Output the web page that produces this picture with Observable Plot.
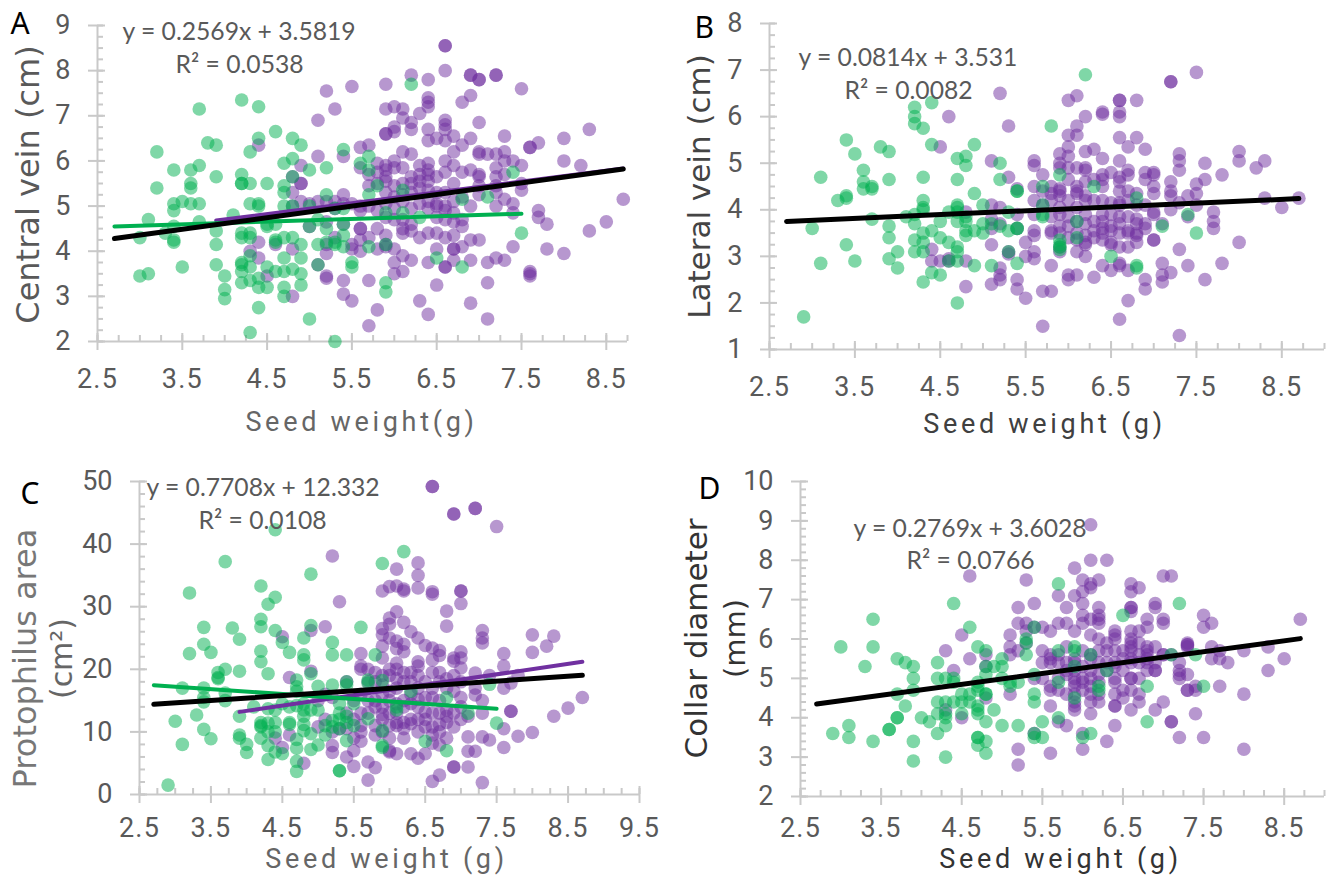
<!DOCTYPE html>
<html>
<head>
<meta charset="utf-8">
<script src="https://cdn.jsdelivr.net/npm/d3@7"></script>
<script src="https://cdn.jsdelivr.net/npm/@observablehq/plot@0.6"></script>
<style>
html,body{margin:0;padding:0;background:#fff}
#page{position:relative;width:1327px;height:875px;overflow:hidden}
#page svg{position:absolute;overflow:visible;background:transparent}
#page g[aria-label="x-axis tick label"]{letter-spacing:1.2px}
</style>
</head>
<body>
<div id="page"></div>
<script>
// Each row: seed weight, then the trait values read at that weight
const aGreen = [[3.0,[3.45,4.3]],[3.1,[3.5,4.7]],[3.2,[6.2,5.4]],[3.3,[4.4]],[3.4,[5.8,5.05,4.9,4.55,4.25,4.2]],[3.5,[5.1,3.65]],[3.6,[5.8,5.5,5.4,5.05]],[3.7,[7.15,5.9,5.05,4.65]],[3.8,[6.4]],[3.9,[6.35,5.65,4.45,4.15,3.7]],[4.0,[3.45,3.15,2.95]],[4.1,[4.8]],[4.2,[7.35,5.7,5.5,5.5,4.4,4.3,3.75,3.7,3.55,3.3]],[4.3,[6.2,5.5,5.05,4.4,4.3,3.9,3.65,3.35,2.2]],[4.4,[7.2,6.5,5.0,5.05,3.4,3.2,2.75]],[4.5,[5.5,4.6,4.55,3.65,3.2]],[4.6,[6.65,4.6,4.25,4.2,3.55]],[4.7,[5.95,5.45,5.3,5.0,4.3,3.85,3.55,3.2,3.0]],[4.8,[6.5,6.05,5.65,5.0,4.3,3.6]],[4.9,[6.35,4.15,3.85,3.5,3.25]],[5.0,[5.8,5.0,4.55,2.5]],[5.1,[4.7,4.15,3.7]],[5.2,[5.85,5.25,4.5,4.2]],[5.3,[4.2,4.15,2.0,4.95]],[5.4,[6.25,4.95,4.6,4.35,4.1]],[5.5,[3.75,3.65]],[5.6,[5.95]],[5.7,[6.1,5.8,5.25,4.1]],[5.8,[5.45]],[5.9,[4.85,4.15,3.3,3.1]],[6.1,[5.35,4.85]],[6.2,[7.7]],[6.3,[4.75]],[6.5,[3.85]],[6.8,[5.15,3.65]],[7.1,[5.2]],[7.4,[5.75]],[7.5,[4.4]]];
const aPurple = [[4.3,[4.0]],[4.4,[6.35,4.2,3.85]],[4.5,[3.45]],[4.6,[4.15]],[4.8,[5.65,5.3,5.0,4.05,3.0]],[4.9,[5.9,5.5,5.1]],[5.0,[5.05,4.55]],[5.1,[6.9,6.1,5.1,3.7]],[5.2,[7.55,5.1,4.65,4.15,3.95,3.45,3.4]],[5.3,[7.15,4.95,5.1,4.3]],[5.4,[6.1,5.25,4.6,3.35,3.05]],[5.5,[7.65,5.05,4.15,4.05,2.9]],[5.6,[6.3,5.85,5.0,4.9,4.5,4.5,4.25,4.0]],[5.7,[6.35,5.7,5.45,5.0,4.3,3.35,2.35]],[5.8,[5.95,5.5,4.9,4.5,4.05,2.7]],[5.9,[7.7,7.15,6.6,5.9,5.8,5.65,5.55,5.3,4.75,4.35,4.15,4.1]],[6.0,[7.2,6.75,6.65,6.0,5.85,4.7,4.05,3.75,3.5]],[6.1,[7.15,6.95,6.2,5.85,5.5,5.25,4.7,4.5,3.9,3.55]],[6.2,[7.9,6.85,6.7,6.15,5.65,5.5,4.95,4.6,4.45,3.8]],[6.3,[7.05,5.9,5.7,5.4,4.3,2.9]],[6.4,[7.8,7.4,7.3,7.2,6.7,6.45,5.95,5.8,5.7,5.55,5.1,4.95,4.4,3.75,2.6]],[6.5,[6.5,5.05,5.0,4.4,4.05,3.25]],[6.6,[8.55,8.0,6.9,6.8,6.7,6.45,6.0,5.75,5.0,4.7,4.3,3.65]],[6.7,[6.55,5.9,5.5,4.85,4.65,4.35,4.05,3.8]],[6.8,[7.3,6.35,5.75,5.2,4.7,4.55,4.1]],[6.9,[7.9,7.45,6.5,5.8,5.0,4.25,3.8,2.85]],[7.0,[7.8,6.85,6.2,6.15,5.7,5.65,5.25,4.25]],[7.1,[6.15,3.75,3.3,2.5]],[7.2,[7.9,6.15,5.85,5.45,5.3,5.0,3.85]],[7.3,[6.55,6.2,6.0,5.7,5.15,3.8]],[7.4,[6.0,5.05,4.85,4.1]],[7.5,[7.6,5.9,5.5,5.35]],[7.6,[6.3,6.3,3.55,3.5,3.45]],[7.7,[6.4,4.9,4.75]],[7.8,[4.6,4.05]],[8.0,[6.5,6.0,3.95]],[8.2,[5.9]],[8.3,[6.7,4.45]],[8.5,[4.65]],[8.7,[5.15]]];
const aPurpleDense = [[4.9,[5.5]],[5.4,[5.05]],[5.8,[5.75]],[5.9,[6.6,5.05]],[6.0,[5.45,5.2,4.95]],[6.1,[5.1,4.4]],[6.2,[5.3]],[6.3,[5.55,5.05]],[6.4,[5.35]],[6.5,[5.65,5.3,4.75]],[6.6,[8.55,5.3,4.9,3.65]],[6.7,[6.2,5.1,4.05]],[6.9,[7.9]],[7.0,[7.8,5.45]],[7.2,[7.9,5.65]]];
const bGreen = [[2.9,[1.7]],[3.0,[3.6]],[3.1,[4.7,2.85]],[3.3,[4.2]],[3.4,[5.5,4.3,4.25,3.25]],[3.5,[5.2,2.9]],[3.6,[4.85,4.6,4.45]],[3.7,[4.5,4.45,3.8]],[3.8,[5.35]],[3.9,[5.25,4.65,3.65,3.4,2.95]],[4.0,[3.1,2.75]],[4.1,[3.85]],[4.2,[6.2,6.0,5.85,3.9,3.7,3.35,3.1]],[4.3,[5.75,4.7,4.2,4.05,4.0,3.5,3.3,3.1,2.45]],[4.4,[6.3,5.4,3.55,2.65]],[4.5,[3.75,3.4,2.6]],[4.6,[3.95,3.3,2.9]],[4.7,[5.1,4.65,4.1,4.05,3.95,3.75,3.2,3.1,2.9,2.0]],[4.8,[5.15,4.95,3.85,3.75,3.55,3.45]],[4.9,[5.4,4.35,3.55,2.8]],[5.0,[4.1,3.7,3.5]],[5.1,[3.7,2.8]],[5.2,[5.0,4.65,3.65]],[5.3,[3.95,3.55,3.1]],[5.4,[4.4,4.4,3.6,3.6,2.85]],[5.7,[4.5,4.1,3.9,3.85]],[5.8,[5.8]],[5.9,[4.75,3.35,3.25,3.2,3.15]],[6.1,[3.75,3.4]],[6.2,[6.9]],[6.3,[4.5]],[6.5,[3.0]],[6.8,[4.25,2.8,2.75]],[7.1,[3.65]],[7.4,[3.9]],[7.5,[3.5]]];
const bPurple = [[4.4,[3.15,2.9]],[4.5,[5.35,2.9]],[4.6,[6.0,2.95,2.9]],[4.8,[3.95,2.9,2.35]],[5.1,[5.05,4.1,3.8,3.6,3.25,2.4]],[5.2,[6.5,4.05,3.7,2.75,2.6,2.5]],[5.3,[5.8,4.7,3.1,3.05]],[5.4,[4.45,3.9,3.6,2.5,2.3]],[5.5,[3.3,3.0,2.1]],[5.6,[5.05,4.95,4.5,4.2,3.9,3.55,3.45,3.1,2.95]],[5.7,[4.75,4.4,4.1,2.25,1.5]],[5.8,[4.5,4.2,3.55,3.5,2.8,2.25]],[5.9,[5.2,5.0,4.9,4.45,4.4,4.05,3.9,3.5,3.2,3.1]],[6.0,[6.35,5.6,5.35,5.15,4.9,3.85,3.65,2.6,2.5]],[6.1,[6.45,5.8,5.6,4.9,4.5,4.4,4.35,3.75,3.35,3.1,2.6]],[6.2,[6.0,5.25,4.9,4.85,4.3,4.2,3.7,3.3,3.25,3.0]],[6.3,[5.3,4.65,3.75,3.4,2.55]],[6.4,[6.1,6.05,5.1,4.75,4.65,4.5,3.9,3.6,3.5,3.35,2.8]],[6.5,[4.8,4.15,3.9,3.55,3.3,3.25,2.7]],[6.6,[6.35,6.35,6.1,6.0,5.55,5.05,4.7,4.6,4.4,4.1,3.7,3.5,3.2,2.85,2.8,1.65]],[6.7,[5.35,4.85,4.75,4.4,3.55,3.5,3.2,2.7,2.05]],[6.8,[6.35,5.55,4.35,3.8,3.5,3.45,3.3]],[6.9,[5.3,4.8,4.65,4.1,3.7,3.6,2.5,2.3]],[7.0,[4.8,4.75,4.5,4.35,3.95,3.9,3.35,3.35]],[7.1,[3.7,2.85,2.6,2.45]],[7.2,[6.75,6.75,4.6,4.4,4.3,4.0,2.65]],[7.3,[5.2,5.05,4.85,4.15,3.15,1.3]],[7.4,[4.3,3.85,2.8]],[7.5,[6.95,4.55,4.35,4.1]],[7.6,[5.0,4.65,2.5]],[7.7,[3.95,3.75,3.6]],[7.8,[4.75,2.85]],[8.0,[5.25,5.05,3.3]],[8.2,[4.9]],[8.3,[5.05,4.25]],[8.5,[4.05]],[8.7,[4.25]]];
const bPurpleDense = [[5.8,[4.35,3.85]],[5.9,[4.3,3.65]],[6.0,[4.65,4.2,3.4]],[6.1,[4.05,3.5]],[6.2,[4.6,3.9,3.45]],[6.3,[4.2,3.55]],[6.4,[4.2,3.75]],[6.5,[3.65]],[6.6,[4.15,3.85]],[6.7,[4.2,3.85]],[6.8,[4.1,3.7]]];
const cGreen = [[2.9,[1.5]],[3.0,[11.7]],[3.1,[17,8]],[3.2,[32.2,22.5]],[3.3,[12.7]],[3.4,[26.7,24,17,15.5,14.8,10.4]],[3.5,[22.7,8.9]],[3.6,[19.5,18.7,18.5]],[3.7,[37.2,20,16.2,15]],[3.8,[26.6]],[3.9,[24.8,19.7,12.5,9.5,9]],[4.0,[8,6.7]],[4.1,[14]],[4.2,[33.3,28,26.8,22.9,21.2,11.5,11,10.8,9]],[4.3,[30.4,19.3,13.7,11.4,10,7.8,5.6]],[4.4,[42.3,31.5,26.2,13.5,11.5,10,6.8]],[4.5,[24.3,14.5,6.5]],[4.6,[22.7,14,11.5,11.2]],[4.7,[18.3,17.2,16.5,14.2,8.8,7.4,5.3,3.7]],[4.8,[25,22.3,21.5,14.5,13.5,12.5,11.2,10.2]],[4.9,[35.2,27,19.3,13.5,9.7,7.2]],[5.0,[17.3,13.5,7.9]],[5.1,[11,9.5]],[5.2,[24.3,22.3,17.5,11.8,10.8]],[5.3,[14.5,13,12,10.5,3.8,3.8]],[5.4,[22.3,18,17.5,12.5,11.5,8.6]],[5.5,[14.5,11]],[5.6,[26.7]],[5.7,[18.3,17.8,12.1]],[5.8,[22.3]],[5.9,[36.9,18.2,10.2,7.8,7.5]],[6.1,[14,13.5]],[6.2,[38.8]],[6.3,[16.5]],[6.5,[8.5]],[6.8,[15.5,7]],[7.1,[13]],[7.4,[17.6]],[7.5,[11.4]]];
const cPurple = [[4.4,[9]],[4.5,[25.2,7.5]],[4.6,[18.7,9.5]],[4.8,[5]],[4.9,[26.2,19.7]],[5.0,[10.8]],[5.1,[26.8,16]],[5.2,[38.1,7.8,6.7]],[5.3,[30.8,10.5]],[5.4,[18,10.5,6]],[5.5,[15,12,7,4.5]],[5.6,[22.5,20.5,20,11,10,8.5]],[5.7,[20,13,5.2,2.3]],[5.8,[19.5,15,14,9.5,4.3]],[5.9,[32.5,26.5,25.5,23.7,21.8,19,16,14,12.8,10]],[6.0,[33.2,28.2,27.2,25,19,16.5,13,9,7,6.8]],[6.1,[36,33.3,29.2,24.5,23.3,20,18.5,14.5,11.5,11,6.5]],[6.2,[32.5,32.8,27.5,24,22.8,19.5,15,11.5,9]],[6.3,[26,19.5,18,14.5,11.3,6.5]],[6.4,[37,35,33,25,21.2,20.5,19,15.2,12,5.8]],[6.5,[23.8,15.5,13.2,10.8,6.5]],[6.6,[49.2,32.4,32,23.4,21.5,19.5,15.5,10.8,8.2,2.1]],[6.7,[23,22.2,19.5,13,11.2,7.9,3.1]],[6.8,[29.3,26.9,18.5,12.5,11.5,9]],[6.9,[44.8,44.8,21.8,21.3,16.5,10.8,4.4,4.4]],[7.0,[32.5,32.5,30.5,22.8,21.8,20.2,15.5,12]],[7.1,[12.5,9.2,6.9,4.4]],[7.2,[45.7,45.7,19.4,17,15.9,6.9]],[7.3,[26.2,25,24.2,15,13,9.2,1.9]],[7.4,[19,8.7]],[7.5,[42.8]],[7.6,[22.5,20.5,17,10.5,7.5]],[7.7,[17.8,13.3,13.3]],[7.8,[19,9.3]],[8.0,[25.5,22.7,9.9]],[8.2,[23.7]],[8.3,[25.3,12.5]],[8.5,[13.8]],[8.7,[15.5]]];
const cPurpleDense = [[5.0,[15]],[5.1,[12]],[5.2,[15.5,10]],[5.4,[13]],[5.5,[9]],[5.6,[16,13]],[5.7,[18,15]],[5.8,[18,11]],[5.9,[17.5,12]],[6.0,[20,15,11]],[6.1,[21,17,13]],[6.2,[18,14,10.5]],[6.3,[16,12]],[6.4,[17,14,10]],[6.5,[18,12]],[6.6,[49.2,17,13,9.5]],[6.7,[18,15,10]],[6.8,[17,13.5]],[6.9,[19,13]],[7.0,[18,14]]];
const dGreen = [[2.9,[3.6]],[3.0,[5.8]],[3.1,[3.8,3.5]],[3.3,[5.3]],[3.4,[6.5,5.8,3.4]],[3.6,[3.7,3.7]],[3.7,[5.5,4.6,4.0,4.0]],[3.8,[5.4,4.3]],[3.9,[5.3,5.0,4.7,3.4,2.9]],[4.0,[4.0]],[4.1,[3.9]],[4.2,[5.4,5.0,4.4,4.1,3.6]],[4.3,[5.0,4.4,4.1,4.0,3.8,3.0]],[4.4,[6.9,5.0,4.9,4.4]],[4.5,[4.6,4.4,4.1]],[4.6,[6.3,4.6,4.4]],[4.7,[5.8,4.9,4.8,4.7,4.3,4.2,4.1,3.5,3.5,3.3]],[4.8,[5.7,5.3,5.1,4.6,4.6,3.9,3.4,3.1]],[4.9,[5.3,4.2]],[5.0,[5.5,5.3,5.0,3.8]],[5.1,[4.9,4.8]],[5.2,[4.9,3.8]],[5.3,[6.0,5.9,5.6]],[5.4,[6.3,5.1,4.6,4.4,3.6,3.5]],[5.5,[3.9,3.5]],[5.7,[7.4,5.7,4.9,4.0]],[5.9,[5.8,5.7,5.3,4.5]],[6.0,[3.5]],[6.1,[5.6,3.6]],[6.2,[4.8,4.7]],[6.3,[5.2]],[6.5,[6.6]],[6.8,[4.8,3.9]],[7.1,[5.6]],[7.2,[6.9]],[7.4,[5.6]],[7.5,[4.8]]];
const dPurple = [[4.3,[5.7,4.2]],[4.4,[5.2]],[4.5,[6.1,4.0]],[4.6,[7.6,5.5]],[4.8,[5.6,5.3,4.5]],[5.1,[6.1,5.8,5.6,4.6]],[5.2,[6.8,6.4,5.7,3.2,2.8]],[5.3,[7.5,6.4,6.2,5.9]],[5.4,[6.9,6.3,5.0,3.6]],[5.5,[6.3,5.7,5.4]],[5.6,[6.2,5.6,5.5,5.4,4.8,4.7,4.3,3.1]],[5.7,[7.1,6.4,5.6,5.4,4.7,3.9]],[5.8,[6.8,6.4,5.8,5.4,5.1,4.6,3.8]],[5.9,[7.8,7.1,6.2,5.4,5.2,5.0,4.9,4.4,4.3,4.2]],[6.0,[7.5,7.2,6.9,6.6,6.4,5.7,5.0,4.9,3.6,3.2]],[6.1,[8.9,8.0,7.4,7.3,6.5,6.1,5.6,5.5,5.0,4.6,4.4,4.1]],[6.2,[7.5,6.8,6.6,6.5,6.4,6.0,5.4,4.9,4.6,4.4]],[6.3,[8.0,5.9,5.7,5.4,3.4]],[6.4,[6.2,6.1,6.0,5.7,5.4,4.9,4.6,4.3,4.3,3.8]],[6.5,[5.7,5.5,4.7,4.5]],[6.6,[7.4,7.2,6.8,6.8,6.7,6.2,6.0,5.9,5.8,5.7,5.4,5.0,5.0,4.7,4.2]],[6.7,[7.3,6.2,5.9,5.6,5.0,4.6,4.4]],[6.8,[6.5,6.3,5.8,5.7,5.6,5.4,5.2]],[6.9,[6.9,6.8,5.8,5.2,5.2,4.2]],[7.0,[7.6,6.5,6.4,5.6,5.6,4.4]],[7.1,[7.6,5.6,3.9,3.9]],[7.2,[5.4,5.2,5.1,5.0,3.5]],[7.3,[5.9,5.8,5.1,4.7,4.7]],[7.4,[4.8,4.7,4.1]],[7.5,[6.6,6.3,3.5]],[7.6,[6.4,5.8,5.5]],[7.7,[5.7,5.5,4.8]],[7.8,[5.4]],[8.0,[5.7,4.6,3.2]],[8.3,[5.8,5.2]],[8.5,[5.5]],[8.7,[6.5]]];
const dPurpleDense = [[5.5,[5.0]],[5.7,[5.0]],[5.8,[5.2]],[5.9,[5.5,4.8,4.6]],[6.0,[5.3,4.7]],[6.1,[5.2,4.8]],[6.2,[5.7,5.1]],[6.3,[5.2]],[6.4,[5.3,5.0]],[6.5,[5.2]],[6.6,[5.5]],[6.7,[5.4]],[6.8,[5.5]],[6.9,[5.4]],[7.3,[5.85,5.85]]];

// Trend line end points
const aTrendBlack = [[2.7,4.28],[8.7,5.82]], aTrendPurple = [[3.9,4.68],[8.7,5.83]], aTrendGreen = [[2.7,4.55],[7.5,4.83]];
const bTrendBlack = [[2.7,3.75],[8.7,4.24]];
const cTrendBlack = [[2.7,14.4],[8.7,19.05]], cTrendPurple = [[3.9,13.2],[8.7,21.2]], cTrendGreen = [[2.7,17.45],[7.5,13.7]];
const dTrendBlack = [[2.7,4.35],[8.7,6.01]];

const xTicks = [2.5,3.5,4.5,5.5,6.5,7.5,8.5];
const xTicksC = [2.5,3.5,4.5,5.5,6.5,7.5,8.5,9.5];
const aYTicks = [2,3,4,5,6,7,8,9];
const bYTicks = [1,2,3,4,5,6,7,8];
const cYTicks = [0,10,20,30,40,50];
const dYTicks = [2,3,4,5,6,7,8,9,10];

const PURPLE = "#7030A0", GREEN = "#00B050", AXIS = "#c9c9c9", TEXT = "#595959";
const expand = rows => rows.flatMap(([x, ys]) => ys.map(y => [x, y]));

function panel(c) {
  const [L, T, W, H] = c.box;
  const minor = (lo, hi, step) => d3.range(Math.round((hi - lo) / step) + 1).map(i => lo + i * step);
  const marks = [
    Plot.ruleY([c.y[0]], {stroke: AXIS, strokeWidth: 2}),
    Plot.ruleX([c.x[0]], {stroke: AXIS, strokeWidth: 2}),
    // inner minor ticks
    Plot.axisX(minor(c.x[0], c.x[1], 0.25), {tickSize: -6, stroke: AXIS, strokeWidth: 2, text: null, label: null}),
    Plot.axisY(minor(c.y[0], c.y[1], c.yMinor), {tickSize: -6, stroke: AXIS, strokeWidth: 2, text: null, label: null}),
    // crossing major ticks
    Plot.axisX(c.xTicks, {tickSize: 9, stroke: AXIS, strokeWidth: 2, color: TEXT, fontSize: 27, tickPadding: c.xPad, tickFormat: d => d.toFixed(1), label: null, fontFamily: "Roboto"}),
    Plot.axisX(c.xTicks, {tickSize: -8, stroke: AXIS, strokeWidth: 2, text: null, label: null}),
    Plot.axisY(c.yTicks, {tickSize: 9, stroke: AXIS, strokeWidth: 2, color: TEXT, fontSize: 27, tickPadding: 18, label: null, fontFamily: "Roboto"}),
    Plot.axisY(c.yTicks, {tickSize: -8, stroke: AXIS, strokeWidth: 2, text: null, label: null}),
    Plot.dot(expand(c.purple), {x: d => d[0], y: d => d[1], r: 6.8, fill: PURPLE, fillOpacity: 0.5}),
    Plot.dot(expand(c.green), {x: d => d[0], y: d => d[1], r: 6.8, fill: GREEN, fillOpacity: 0.5}),
  ];
  if (c.trendPurple) marks.push(Plot.line(c.trendPurple, {x: d => d[0], y: d => d[1], stroke: PURPLE, strokeWidth: 4}));
  if (c.trendGreen) marks.push(Plot.line(c.trendGreen, {x: d => d[0], y: d => d[1], stroke: GREEN, strokeWidth: 4}));
  marks.push(Plot.line(c.trendBlack, {x: d => d[0], y: d => d[1], stroke: "#000", strokeWidth: 5}));
  for (const t of c.texts) {
    marks.push(Plot.text([t.s], {
      frameAnchor: "top-left", dx: t.x - c.margin[3], dy: t.y - c.margin[0],
      textAnchor: t.anchor || "start", lineAnchor: "middle", rotate: t.rotate || 0,
      fontSize: t.size, fill: t.fill || TEXT, fontFamily: t.font || "Lato", fontWeight: 400
    }));
  }
  const svg = Plot.plot({
    width: W, height: H,
    marginTop: c.margin[0], marginRight: c.margin[1], marginBottom: c.margin[2], marginLeft: c.margin[3],
    x: {domain: c.x, axis: null}, y: {domain: c.y, axis: null},
    style: {background: "transparent", overflow: "visible"},
    marks
  });
  svg.querySelectorAll("text").forEach(t => {
    if (t.textContent.startsWith("Seed weight")) t.style.letterSpacing = "3.7px";
  });
  svg.style.left = L + "px";
  svg.style.top = T + "px";
  document.getElementById("page").appendChild(svg);
}

const label = (s, x, y, size, extra) => Object.assign({s, x, y, size}, extra);
const LETTER = {fill: "#000", font: "Noto Sans"};
const XT = fill => ({font: "Roboto", anchor: "middle", fill});
const YT = fill => ({font: "DejaVu Sans", anchor: "middle", rotate: -90, fill});

panel({box: [0, 0, 660, 440], margin: [25, 33, 99, 97], xPad: 18, x: [2.5, 8.75], y: [2, 9], yMinor: 0.25,
  xTicks, yTicks: aYTicks, green: aGreen, purple: aPurple.concat(aPurpleDense),
  trendBlack: aTrendBlack, trendPurple: aTrendPurple, trendGreen: aTrendGreen,
  texts: [
    label("A", 10, 24, 30, LETTER),
    label("y = 0.2569x + 3.5819", 122, 32, 24.7),
    label("R² = 0.0538", 175, 65, 24.7),
    label("Central vein (cm)", 28, 184, 32, YT("#595959")),
    label("Seed weight(g)", 361, 422, 27, XT("#666")),
  ]});
panel({box: [660, 0, 667, 440], margin: [23, 3, 91, 109], xPad: 18, x: [2.5, 9], y: [1, 8], yMinor: 0.25,
  xTicks, yTicks: bYTicks, green: bGreen, purple: bPurple.concat(bPurpleDense),
  trendBlack: bTrendBlack,
  texts: [
    label("B", 34, 27.5, 30, LETTER),
    label("y = 0.0814x + 3.531", 138, 58, 24.7),
    label("R² = 0.0082", 184, 91, 24.7),
    label("Lateral vein (cm)", 40, 186, 31, YT("#444")),
    label("Seed weight (g)", 384, 424, 27, XT("#404040")),
  ]});
panel({box: [0, 440, 660, 435], margin: [41, 21, 81, 139], xPad: 14.8, x: [2.5, 9.5], y: [0, 50], yMinor: 2,
  xTicks: xTicksC, yTicks: cYTicks, green: cGreen, purple: cPurple.concat(cPurpleDense),
  trendBlack: cTrendBlack, trendPurple: cTrendPurple, trendGreen: cTrendGreen,
  texts: [
    label("C", 20, 54, 30, LETTER),
    label("y = 0.7708x + 12.332", 146, 48, 24.7),
    label("R² = 0.0108", 198, 81, 24.7),
    label("Protophilus area", 25, 218, 32, YT("#777")),
    label("(cm²)", 62, 218, 30, YT("#666")),
    label("Seed weight (g)", 386, 418.5, 27, XT("#666")),
  ]});
panel({box: [660, 440, 667, 435], margin: [41, 3, 79, 140], xPad: 12.8, x: [2.5, 9], y: [2, 10], yMinor: 0.2,
  xTicks, yTicks: dYTicks, green: dGreen, purple: dPurple.concat(dPurpleDense),
  trendBlack: dTrendBlack,
  texts: [
    label("D", 38, 48.5, 30, LETTER),
    label("y = 0.2769x + 3.6028", 193, 89, 24.7),
    label("R² = 0.0766", 246, 121, 24.7),
    label("Collar diameter", 37, 198, 31, YT("#333")),
    label("(mm)", 75, 198, 29, YT("#333")),
    label("Seed weight (g)", 400, 418.5, 27, XT("#333")),
  ]});
</script>
</body>
</html>
